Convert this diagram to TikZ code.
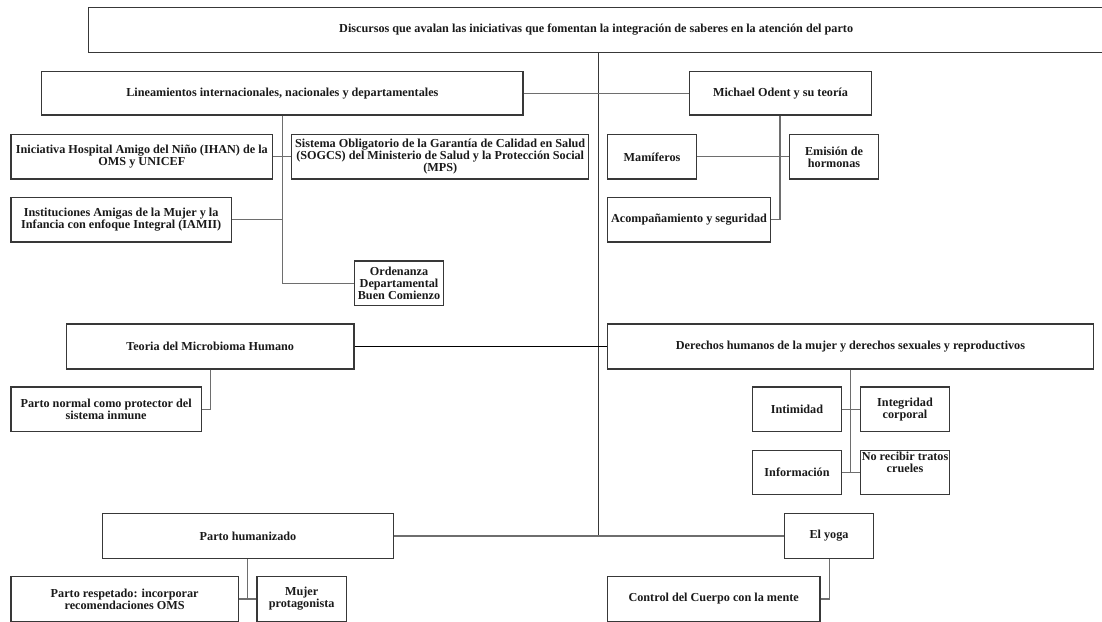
\documentclass[tikz,border=0pt]{standalone}
\usepackage{fontspec}
\setmainfont{Liberation Serif}
\definecolor{boxc}{HTML}{383838}
\definecolor{linec}{HTML}{6E6E6E}
\definecolor{txt}{HTML}{1A1A1A}
\tikzset{
  box/.style={draw=boxc, line width=1.1pt, inner sep=0pt, align=center,
    font=\fontsize{12.2}{12}\selectfont\bfseries, text=txt},
  lbl/.style={inner sep=0pt, align=center,
    font=\fontsize{12.2}{12}\selectfont\bfseries, text=txt},
  conn/.style={draw=linec, line width=1.2pt},
  trunkline/.style={draw=boxc, line width=1.4pt},
  blackline/.style={draw=black, line width=0.9pt}
}
\newcommand\bx[6]{\node[box, minimum width={#4-#2}, minimum height={#5-#3}] (#1) at ({(#2+#4)/2},{(#3+#5)/2}) {#6};}
\begin{document}
\begin{tikzpicture}[x=1pt,y=-1pt]
\useasboundingbox[fill=white] (0,0) rectangle (1102,621);
\clip (0,0) rectangle (1102,621);
% boxes
\bx{title}{88.3}{7.3}{1104}{52.3}{Discursos que avalan las iniciativas que fomentan la integración de saberes en la atención del parto}
\bx{lin}{41.7}{71.7}{523}{115}{Lineamientos internacionales, nacionales y departamentales}
\bx{odent}{689.3}{71.7}{871.7}{115}{Michael Odent y su teoría}
\bx{ihan}{11}{134.7}{272.7}{179}{Iniciativa Hospital Amigo del Niño (IHAN) de la\\OMS y UNICEF}
\bx{sogcs}{291.7}{134.7}{588.7}{179}{Sistema Obligatorio de la Garantía de Calidad en Salud\\(SOGCS) del Ministerio de Salud y la Protección Social\\(MPS)}
\bx{iamii}{11}{197.3}{231.3}{242}{Instituciones Amigas de la Mujer y la\\Infancia con enfoque Integral (IAMII)}
\bx{orden}{354.3}{261}{443.7}{305.3}{Ordenanza\\Departamental\\Buen Comienzo}
\bx{mam}{607.3}{134.7}{696.7}{179}{Mamíferos}
\bx{emis}{789.3}{134.7}{878.7}{179}{Emisión de\\hormonas}
\bx{acomp}{607.3}{197.3}{770.7}{242}{Acompañamiento y seguridad}
\bx{teoria}{66.3}{324}{354}{369}{Teoria del Microbioma Humano}
\bx{pnormal}{11}{387}{201.3}{431.7}{Parto normal como protector del\\sistema inmune}
\bx{derechos}{607.3}{324}{1093.7}{369}{Derechos humanos de la mujer y derechos sexuales y reproductivos}
\bx{intim}{752.3}{387}{841.7}{431.7}{Intimidad}
\bx{integ}{860.3}{387}{949.7}{431.7}{Integridad\\corporal}
\bx{info}{752.3}{450.7}{841.7}{494.3}{Información}
\bx{norec}{860.3}{450.7}{949.7}{494.3}{}
\node[lbl, anchor=north] (norect) at (905,451.5) {No recibir tratos\\crueles};
\bx{phum}{102.3}{513.7}{393.7}{558.3}{Parto humanizado}
\bx{yoga}{784.3}{513.7}{873.7}{558.3}{El yoga}
\bx{presp}{11}{576.7}{238.3}{621.3}{Parto respetado: incorporar\\recomendaciones OMS}
\bx{mujer}{257}{576.7}{346.3}{621.3}{Mujer\\protagonista}
\bx{control}{607.3}{576.7}{820}{621.3}{Control del Cuerpo con la mente}
% junction coordinates
\coordinate (tj) at (598.3,536);
\coordinate (lj) at (282.7,283.1);
\coordinate (oj) at (780,219.6);
\coordinate (tmj) at (210.3,409.3);
\coordinate (dj) at (850.7,472.5);
\coordinate (pj) at (247.7,599);
\coordinate (yj) at (829.3,599);
% connectors
\draw[trunkline] (title.south -| tj) -- (tj);
\draw[conn] (lin.east) -- (odent.west);
\draw[conn] (lin.south -| lj) |- (orden.west);
\draw[conn] (ihan.east) -- (sogcs.west);
\draw[conn] (iamii.east) -- (iamii.east -| lj);
\draw[conn] (odent.south -| oj) |- (acomp.east);
\draw[conn] (mam.east) -- (emis.west);
\draw[blackline] (teoria.east) -- (derechos.west);
\draw[conn] (teoria.south -| tmj) |- (pnormal.east);
\draw[conn] (derechos.south -| dj) |- (info.east);
\draw[conn] (intim.east) -- (integ.west);
\draw[conn] (info.east) -- (norec.west);
\draw[conn] (phum.east) -- (yoga.west);
\draw[conn] (phum.south -| pj) -- (pj);
\draw[conn] (presp.east) -- (mujer.west);
\draw[conn] (yoga.south -| yj) |- (control.east);
\end{tikzpicture}
\end{document}
